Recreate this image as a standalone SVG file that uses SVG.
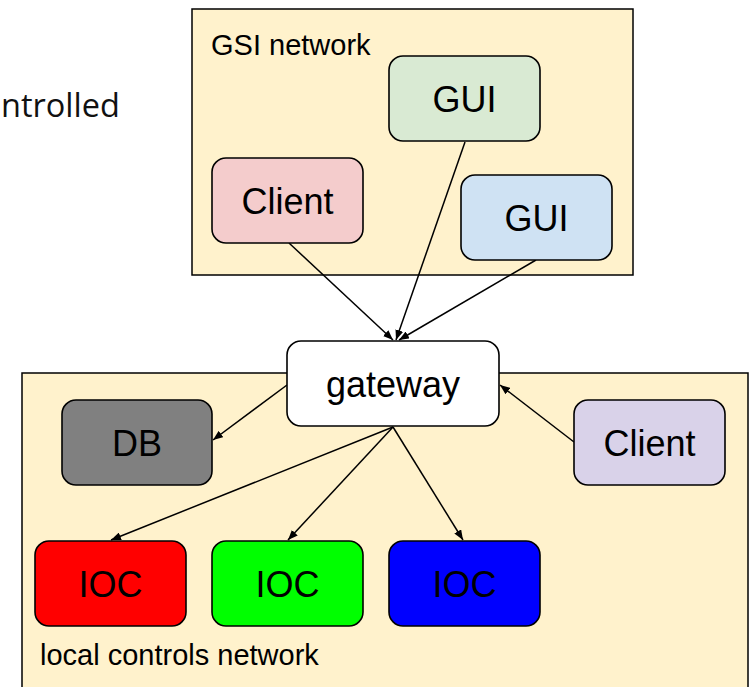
<svg xmlns="http://www.w3.org/2000/svg" width="753" height="687" viewBox="0 0 753 687">
<defs>
<marker id="ah" viewBox="0 0 10 8" refX="10" refY="4" markerWidth="10" markerHeight="8" markerUnits="userSpaceOnUse" orient="auto">
<path d="M0,0 L10,4 L0,8 z" fill="#000"/>
</marker>
<style>
.net{fill:#fff2cc;stroke:#000;stroke-width:1.5}
.node rect{stroke:#000;stroke-width:1.6}
.lbl{font-family:"Liberation Sans",Arial,sans-serif;font-size:36px;fill:#000;text-anchor:middle}
.nlbl{font-family:"Liberation Sans",Arial,sans-serif;font-size:29px;fill:#000}
.conn line{stroke:#000;stroke-width:1.5;marker-end:url(#ah)}
</style>
</defs>
<rect width="753" height="687" fill="#fff"/>
<text x="1" y="117" font-family="'Open Sans',sans-serif" font-size="32.5" fill="#111">ntrolled</text>
<g id="gsi-network">
<rect class="net" x="192" y="9" width="441" height="266"/>
<text class="nlbl" x="211" y="55">GSI network</text>
</g>
<g id="local-network">
<rect class="net" x="22" y="373" width="726" height="330"/>
<text class="nlbl" x="40" y="665">local controls network</text>
</g>
<g class="conn" id="connectors">
<line x1="289" y1="243" x2="393" y2="340"/>
<line x1="465" y1="142" x2="396" y2="340"/>
<line x1="536" y1="260" x2="399" y2="340"/>
<line x1="287" y1="385" x2="213" y2="440"/>
<line x1="393" y1="427" x2="111" y2="540"/>
<line x1="393" y1="427" x2="288" y2="540"/>
<line x1="393" y1="427" x2="463" y2="540"/>
<line x1="574" y1="442" x2="500" y2="385"/>
</g>
<g class="node" id="gui-green">
<rect x="389" y="56" width="151" height="85" rx="14" fill="#d9ead3"/>
<text class="lbl" x="464.5" y="112">GUI</text>
</g>
<g class="node" id="gui-blue">
<rect x="461" y="175" width="151" height="85" rx="14" fill="#cfe2f3"/>
<text class="lbl" x="536.5" y="231">GUI</text>
</g>
<g class="node" id="client-gsi">
<rect x="212" y="158" width="151" height="85" rx="14" fill="#f4cccc"/>
<text class="lbl" x="287.5" y="214">Client</text>
</g>
<g class="node" id="gateway">
<rect x="287" y="341" width="212" height="85" rx="14" fill="#fff"/>
<text class="lbl" x="393" y="397">gateway</text>
</g>
<g class="node" id="db">
<rect x="62" y="400" width="150" height="85" rx="14" fill="#808080"/>
<text class="lbl" x="137" y="456">DB</text>
</g>
<g class="node" id="client-local">
<rect x="574" y="400" width="151" height="85" rx="14" fill="#d9d2e9"/>
<text class="lbl" x="649.5" y="456">Client</text>
</g>
<g class="node" id="ioc-red">
<rect x="35" y="541" width="151" height="85" rx="14" fill="#ff0000"/>
<text class="lbl" x="110.5" y="597">IOC</text>
</g>
<g class="node" id="ioc-green">
<rect x="212" y="541" width="151" height="85" rx="14" fill="#00ff00"/>
<text class="lbl" x="287.5" y="597">IOC</text>
</g>
<g class="node" id="ioc-blue">
<rect x="389" y="541" width="151" height="85" rx="14" fill="#0000ff"/>
<text class="lbl" x="464.5" y="597">IOC</text>
</g>
</svg>
